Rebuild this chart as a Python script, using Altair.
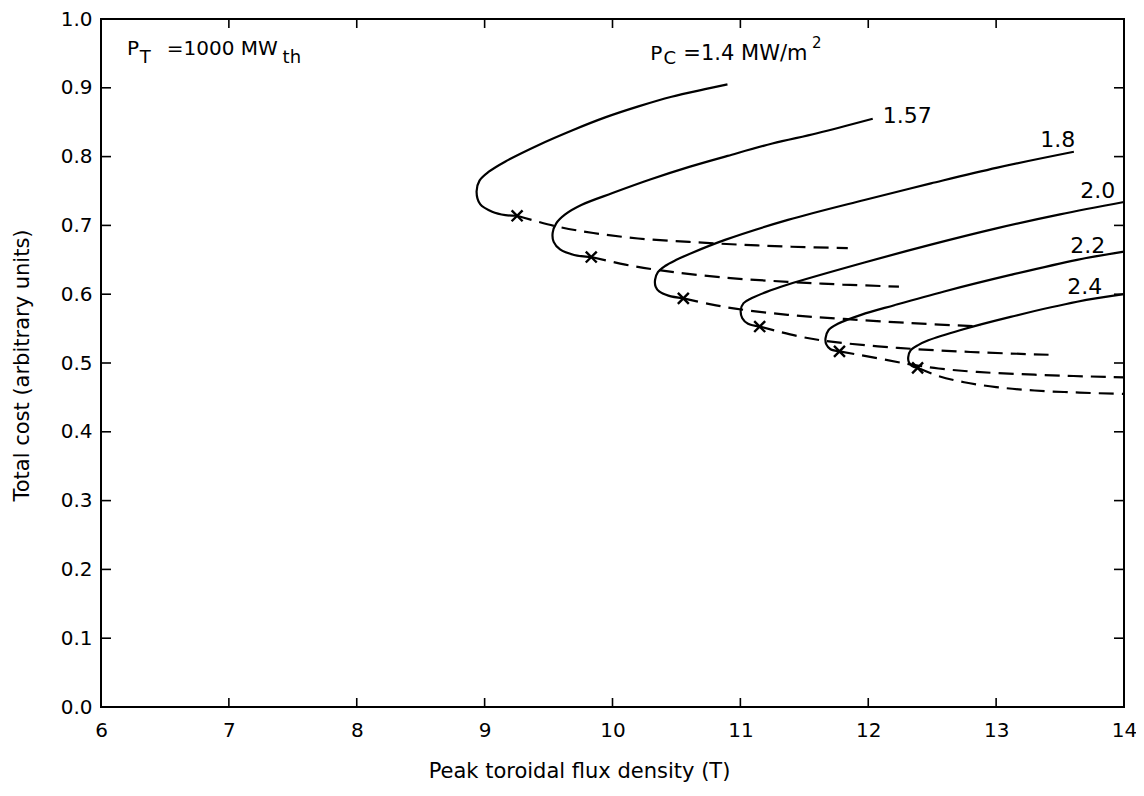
import altair as alt
import pandas as pd

FONT = "DejaVu Sans"

# ---------------- axes ----------------
x_ticks = [6, 7, 8, 9, 10, 11, 12, 13, 14]
y_ticks = [0.0, 0.1, 0.2, 0.3, 0.4, 0.5, 0.6, 0.7, 0.8, 0.9, 1.0]
inner_x_ticks = [7, 8, 9, 10, 11, 12, 13]
inner_y_ticks = [0.1, 0.2, 0.3, 0.4, 0.5, 0.6, 0.7, 0.8, 0.9]

# ---------------- curves (Pc in MW/m^2) ----------------
curve_names = ["1.4", "1.57", "1.8", "2.0", "2.2", "2.4"]

# solid parts: from the optimum (x) round the nose to the upper end
solid_x = {
    "1.4":  [9.254, 9.163, 9.059, 8.965, 8.937, 8.960, 9.033, 9.163, 9.423, 9.683, 9.943, 10.203, 10.462, 10.723, 10.899],
    "1.57": [9.834, 9.700, 9.590, 9.540, 9.532, 9.560, 9.630, 9.760, 10.000, 10.300, 10.600, 10.900, 11.250, 11.600, 12.035],
    "1.8":  [10.554, 10.437, 10.365, 10.337, 10.333, 10.355, 10.411, 10.500, 10.620, 10.880, 11.372, 11.970, 12.490, 13.010, 13.608],
    "2.0":  [11.151, 11.060, 11.015, 11.003, 11.025, 11.086, 11.200, 11.372, 11.970, 12.490, 13.010, 13.500, 14.000],
    "2.2":  [11.775, 11.705, 11.672, 11.666, 11.690, 11.762, 11.944, 12.204, 12.594, 13.113, 13.633, 14.000],
    "2.4":  [12.386, 12.340, 12.316, 12.313, 12.330, 12.390, 12.470, 12.724, 13.113, 13.633, 14.000],
}
solid_y = {
    "1.4":  [0.714, 0.715, 0.720, 0.731, 0.749, 0.765, 0.778, 0.793, 0.817, 0.838, 0.857, 0.873, 0.887, 0.898, 0.905],
    "1.57": [0.654, 0.657, 0.665, 0.676, 0.689, 0.703, 0.716, 0.730, 0.747, 0.767, 0.785, 0.801, 0.819, 0.834, 0.855],
    "1.8":  [0.594, 0.598, 0.604, 0.611, 0.621, 0.632, 0.641, 0.650, 0.660, 0.679, 0.708, 0.737, 0.761, 0.784, 0.807],
    "2.0":  [0.553, 0.557, 0.565, 0.577, 0.587, 0.594, 0.603, 0.614, 0.646, 0.672, 0.696, 0.716, 0.734],
    "2.2":  [0.517, 0.520, 0.527, 0.536, 0.548, 0.557, 0.570, 0.584, 0.604, 0.628, 0.650, 0.662],
    "2.4":  [0.493, 0.496, 0.502, 0.509, 0.518, 0.526, 0.533, 0.548, 0.567, 0.589, 0.600],
}

# dashed parts: from the optimum (x) to the right
dashed_x = {
    "1.4":  [9.254, 9.55, 9.85, 10.20, 10.60, 11.00, 11.40, 11.84],
    "1.57": [9.834, 10.10, 10.36, 10.88, 11.37, 11.80, 12.24],
    "1.8":  [10.554, 10.75, 10.96, 11.37, 11.81, 12.33, 12.88],
    "2.0":  [11.151, 11.45, 11.71, 12.23, 12.80, 13.41],
    "2.2":  [11.775, 12.07, 12.33, 12.55, 12.85, 13.30, 14.00],
    "2.4":  [12.386, 12.55, 12.75, 13.00, 13.30, 13.65, 14.00],
}
dashed_y = {
    "1.4":  [0.714, 0.699, 0.689, 0.681, 0.676, 0.672, 0.669, 0.667],
    "1.57": [0.654, 0.643, 0.635, 0.624, 0.618, 0.614, 0.611],
    "1.8":  [0.594, 0.586, 0.579, 0.570, 0.564, 0.558, 0.553],
    "2.0":  [0.553, 0.539, 0.531, 0.522, 0.516, 0.512],
    "2.2":  [0.517, 0.507, 0.498, 0.492, 0.487, 0.483, 0.479],
    "2.4":  [0.493, 0.481, 0.472, 0.465, 0.460, 0.457, 0.455],
}

# optimum points (x marks)
opt_x = [9.254, 9.834, 10.554, 11.151, 11.775, 12.386]
opt_y = [0.714, 0.654, 0.594, 0.553, 0.517, 0.493]

# ---------------- annotations ----------------
curve_label_text = ["1.57", "1.8", "2.0", "2.2", "2.4"]
curve_label_x = [12.113, 13.345, 13.657, 13.579, 13.556]
curve_label_y = [0.849, 0.814, 0.740, 0.660, 0.600]

note_text = ["P", "T", "=1000", "MW", "th", "P", "C", "=1.4 MW/m", "2"]
note_x = [6.203, 6.304, 6.515, 7.092, 7.420, 10.296, 10.398, 10.554, 11.560]
note_y = [0.9477, 0.936, 0.9477, 0.9477, 0.936, 0.9404, 0.9346, 0.9404, 0.958]
note_size = [20, 18, 20, 20, 18, 20, 18, 21, 15]

# ---------------- tables ----------------
def build(xs, ys):
    rows = []
    for c in curve_names:
        for i, (xv, yv) in enumerate(zip(xs[c], ys[c])):
            rows.append({"curve": c, "idx": i, "x": xv, "y": yv})
    return pd.DataFrame(rows)

solid_df = build(solid_x, solid_y)
dashed_df = build(dashed_x, dashed_y)
opt_df = pd.DataFrame({"x": opt_x, "y": opt_y})
lab_df = pd.DataFrame({"text": curve_label_text, "x": curve_label_x, "y": curve_label_y})
note_df = pd.DataFrame({"text": note_text, "x": note_x, "y": note_y, "size": note_size})
xt_df = pd.DataFrame({"t": inner_x_ticks})
yt_df = pd.DataFrame({"t": inner_y_ticks})

W, H = 1023, 688

xs = alt.Scale(domain=[6, 14], nice=False, zero=False)
ys = alt.Scale(domain=[0, 1], nice=False, zero=False)

xaxis = alt.Axis(values=x_ticks, format="d", domain=False, ticks=False, grid=False,
                 labelFont=FONT, labelFontSize=20, labelColor="black", labelPadding=13,
                 labelFlush=False, labelOverlap=False,
                 title="Peak toroidal flux density (T)", titleFont=FONT, titleFontSize=21,
                 titleFontWeight="normal", titleColor="black",
                 titleX=478, titleY=70, titleAlign="center", titleBaseline="alphabetic")
yaxis = alt.Axis(values=y_ticks, format=".1f", domain=False, ticks=False, grid=False,
                 labelFont=FONT, labelFontSize=20, labelColor="black", labelPadding=9,
                 labelFlush=False, labelOverlap=False,
                 title="Total cost (arbitrary units)", titleFont=FONT, titleFontSize=21,
                 titleFontWeight="normal", titleColor="black",
                 titleX=-73, titleY=346, titleAngle=270, titleAlign="center",
                 titleBaseline="alphabetic")

X = lambda f: alt.X(f, type="quantitative", scale=xs, axis=xaxis)
Y = lambda f: alt.Y(f, type="quantitative", scale=ys, axis=yaxis)

solid = alt.Chart(solid_df).mark_line(color="black", strokeWidth=2.2, interpolate="catmull-rom").encode(
    x=X("x"), y=Y("y"), detail="curve:N", order="idx:Q")

dashed = alt.Chart(dashed_df).mark_line(color="black", strokeWidth=2.2, interpolate="catmull-rom",
                                        strokeDash=[15, 8]).encode(
    x=X("x"), y=Y("y"), detail="curve:N", order="idx:Q")

crosses = alt.Chart(opt_df).mark_point(shape="M-1,-1L1,1M-1,1L1,-1", size=120, filled=False,
                                       color="black", strokeWidth=2.4, opacity=1).encode(
    x=X("x"), y=Y("y"))

labels = alt.Chart(lab_df).mark_text(font=FONT, fontSize=22, align="left", baseline="alphabetic",
                                     color="black").encode(x=X("x"), y=Y("y"), text="text:N")

notes = alt.Chart(note_df).mark_text(font=FONT, align="left", baseline="alphabetic",
                                     color="black").encode(
    x=X("x"), y=Y("y"), text="text:N", size=alt.Size("size:Q", scale=None, legend=None))

tick_style = dict(color="black", strokeWidth=1.6)
tb = alt.Chart(xt_df).mark_rule(**tick_style).encode(x=X("t"), y=alt.value(H), y2=alt.value(H - 9))
tt = alt.Chart(xt_df).mark_rule(**tick_style).encode(x=X("t"), y=alt.value(0), y2=alt.value(9))
tl = alt.Chart(yt_df).mark_rule(**tick_style).encode(y=Y("t"), x=alt.value(0), x2=alt.value(10))
tr = alt.Chart(yt_df).mark_rule(**tick_style).encode(y=Y("t"), x=alt.value(W), x2=alt.value(W - 10))

chart = alt.layer(tb, tt, tl, tr, dashed, solid, crosses, labels, notes).properties(
    width=W, height=H,
    autosize=alt.AutoSizeParams(type="none"),
    padding={"left": 93, "top": 11, "right": 12, "bottom": 81},
    background="white",
).configure_view(stroke="black", strokeWidth=2)

chart.save("out.html", embed_options={"renderer": "svg", "actions": False})
